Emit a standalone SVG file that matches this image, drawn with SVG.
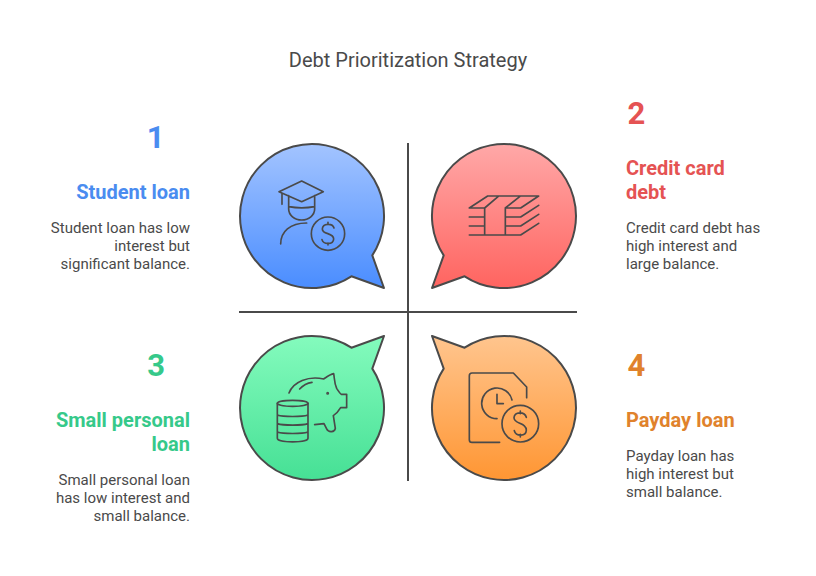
<svg xmlns="http://www.w3.org/2000/svg" width="816" height="576" viewBox="0 0 816 576">
<style>
text{font-family:Roboto,"Liberation Sans",sans-serif}
.t{font-size:20px;fill:#4a4a4a;text-anchor:middle}
.n{font-size:31px;font-weight:700}
.h{font-size:20px;font-weight:700}
.d{font-size:15px;fill:#4a4a4a}
.e{text-anchor:end}
.b{stroke:#4a4a4a;stroke-width:2;stroke-linejoin:round}
.i{fill:none;stroke:#4a4a4a;stroke-width:5;stroke-linecap:round;stroke-linejoin:round}
.l{fill:none;stroke:#4a4a4a;stroke-width:2}
</style>
<defs>
<linearGradient id="gb" x1="0" y1="0" x2="0" y2="1"><stop offset="0" stop-color="#a3c4ff"/><stop offset="1" stop-color="#4a8dff"/></linearGradient>
<linearGradient id="gr" x1="0" y1="0" x2="0" y2="1"><stop offset="0" stop-color="#ffa8a8"/><stop offset="1" stop-color="#ff6460"/></linearGradient>
<linearGradient id="gg" x1="0" y1="0" x2="0" y2="1"><stop offset="0" stop-color="#84fbbd"/><stop offset="1" stop-color="#46e095"/></linearGradient>
<linearGradient id="go" x1="0" y1="0" x2="0" y2="1"><stop offset="0" stop-color="#ffc58e"/><stop offset="1" stop-color="#ff9633"/></linearGradient>
</defs>
<text class="t" x="408" y="67">Debt Prioritization Strategy</text>
<g id="connectors">
<path class="l" d="M408 143V481M239 312H577"/>
</g>
<g id="node-1">
<path class="b" fill="url(#gb)" d="M384 288L372.3 255.4A72 72 0 1 0 351.4 276.3Z"/>
<g class="i" transform="translate(230 135) scale(.3333)">
<path d="M147 170L215 138L280 170L215 200ZM156 175V208M176 182V222A39 33 0 0 0 254 222V182M176 215Q215 222 254 215M152 327C152 290 180 264 230 264"/>
<circle cx="294" cy="296" r="50"/>
<path d="M312 279C308 264 278 264 277 282C277 300 311 292 311 312C310 330 280 329 276 314M294 262V268M294 324V330"/>
</g>
<text class="n e" x="164.500" y="148" fill="#4a8cf0">1</text>
<text class="h e" x="190" y="199" fill="#4a8cf0">Student loan</text>
<text class="d e" x="190" y="233">Student loan has low</text>
<text class="d e" x="190" y="251">interest but</text>
<text class="d e" x="190" y="269">significant balance.</text>
</g>
<g id="node-2">
<path class="b" fill="url(#gr)" d="M432 288L443.7 255.4A72 72 0 1 1 464.6 276.3Z"/>
<g class="i" transform="translate(420 135) scale(.3333)">
<path d="M148 219L203 183H356L302 219H256M148 219H194V300M148 246H194M148 273H194M148 300H302L356 265M256 246H302L356 211M256 273H302L356 238M256 219V300M194 219L235 184M256 219L300 184"/>
</g>
<text class="n" x="627.500" y="124" fill="#e55353">2</text>
<text class="h" x="626" y="175" fill="#e55353">Credit card</text>
<text class="h" x="626" y="199" fill="#e55353">debt</text>
<text class="d" x="626" y="233">Credit card debt has</text>
<text class="d" x="626" y="251">high interest and</text>
<text class="d" x="626" y="269">large balance.</text>
</g>
<g id="node-3">
<path class="b" fill="url(#gg)" d="M384 336L351.4 347.7A72 72 0 1 0 372.3 368.6Z"/>
<g class="i" transform="translate(230 325) scale(.3333)">
<path d="M177 204C190 170 235 152 281 162C290 156 300 148 311 146C314 160 312 172 320 190C325 198 330 206 334 208H350V248H332C326 258 320 266 310 272L316 310C314 322 296 324 290 312L282 296L254 299"/>
<path d="M209 192C220 180 232 174 246 172"/>
<circle cx="293" cy="205" r="2"/>
<ellipse cx="188" cy="235" rx="46" ry="9"/>
<path d="M142 235V340C142 354 234 354 234 340V235M142 270C160 276 216 276 234 270M142 296C160 302 216 302 234 296M142 321C160 327 216 327 234 321"/>
</g>
<text class="n e" x="165" y="376" fill="#36c98a">3</text>
<text class="h e" x="190" y="427" fill="#36c98a">Small personal</text>
<text class="h e" x="190" y="451" fill="#36c98a">loan</text>
<text class="d e" x="190" y="485">Small personal loan</text>
<text class="d e" x="190" y="503">has low interest and</text>
<text class="d e" x="190" y="521">small balance.</text>
</g>
<g id="node-4">
<path class="b" fill="url(#go)" d="M432 336L464.6 347.7A72 72 0 1 1 443.7 368.6Z"/>
<g class="i" transform="translate(420 325) scale(.3333)">
<path d="M239 352H156Q148 352 148 344V152Q148 144 156 144H280L320 186V218"/>
<path d="M276 225A46 46 0 1 0 231 281M231 208V236H250"/>
<circle cx="301" cy="296" r="55"/>
<path d="M319 277C314 259 284 259 282 278C281 298 320 292 319 316C318 335 288 335 283 317M301 258V266M301 328V336"/>
</g>
<text class="n" x="627.500" y="376" fill="#e0822c">4</text>
<text class="h" x="626" y="427" fill="#e0822c">Payday loan</text>
<text class="d" x="626" y="461">Payday loan has</text>
<text class="d" x="626" y="479">high interest but</text>
<text class="d" x="626" y="497">small balance.</text>
</g>
</svg>
